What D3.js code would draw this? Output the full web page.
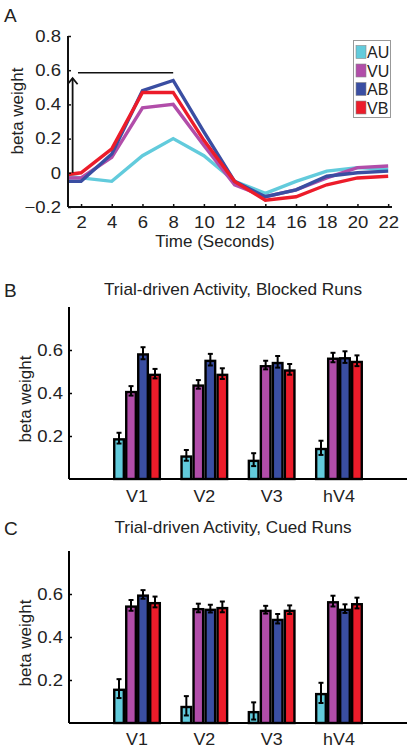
<!DOCTYPE html>
<html><head><meta charset="utf-8">
<script src="https://cdn.jsdelivr.net/npm/d3@7"></script>
<style>body{margin:0;background:#fff}svg{display:block}text{font-family:"Liberation Sans",Arial,sans-serif;fill:#222}</style>
</head><body>
<svg id="c" width="410" height="750"></svg>
<script>
// ---------- data ----------
const conditions = ["AU","VU","AB","VB"];
const colors = ["#62cbdc","#b14da9","#3a4ea2","#ec1c2a"];
const time = [1.15,2,4,6,8,10,12,14,16,18,20,22];
const tcAU = [-0.02,-0.03,-0.05,0.10,0.20,0.10,-0.05,-0.12,-0.05,0.01,0.03,0.02];
const tcVU = [-0.03,-0.03,0.09,0.38,0.40,0.16,-0.07,-0.14,-0.10,-0.03,0.03,0.04];
const tcAB = [-0.05,-0.05,0.11,0.48,0.54,0.24,-0.05,-0.14,-0.10,-0.02,0.00,0.01];
const tcVB = [-0.01,0.00,0.14,0.47,0.47,0.19,-0.05,-0.16,-0.14,-0.07,-0.03,-0.02];
const timeTicks = [2,4,6,8,10,12,14,16,18,20,22];
const betaTicksA = [-0.2,0,0.2,0.4,0.6,0.8];
const betaTicksA_labels = ["\u22120.2","0","0.2","0.4","0.6","0.8"];

const regions = ["V1","V2","V3","hV4"];
const betaTicksBC = [0.2,0.4,0.6];
const blockedAU = [0.19,0.11,0.09,0.145];
const blockedVU = [0.41,0.44,0.53,0.565];
const blockedAB = [0.585,0.555,0.545,0.567];
const blockedVB = [0.49,0.49,0.51,0.55];
const blockedErrAU = [0.025,0.025,0.03,0.033];
const blockedErrVU = [0.022,0.02,0.02,0.022];
const blockedErrAB = [0.028,0.027,0.027,0.027];
const blockedErrVB = [0.022,0.025,0.025,0.025];
const cuedAU = [0.16,0.08,0.056,0.14];
const cuedVU = [0.547,0.535,0.527,0.567];
const cuedAB = [0.598,0.532,0.485,0.532];
const cuedVB = [0.563,0.54,0.527,0.558];
const cuedErrAU = [0.044,0.045,0.04,0.047];
const cuedErrVU = [0.025,0.02,0.018,0.025];
const cuedErrAB = [0.02,0.018,0.022,0.02];
const cuedErrVB = [0.025,0.025,0.02,0.025];

const svg = d3.select("#c");

// horizontally widen text (the reference figure is slightly stretched)
function stretch(sel, f){
  sel.each(function(){
    const w = this.getComputedTextLength();
    d3.select(this).attr("textLength", w*f).attr("lengthAdjust","spacingAndGlyphs");
  });
}

// ---------- Panel A ----------
(function(){
  const x = d3.scaleLinear().domain([1.15,22.25]).range([68,392]);
  const y = d3.scaleLinear().domain([-0.2,0.8]).range([207,36]);
  const g = svg.append("g");
  g.append("text").attr("x",4).attr("y",22).attr("font-size",19).text("A");
  const series = [tcAU,tcVU,tcAB,tcVB];
  const line = d3.line().x((d,i)=>x(time[i])).y(d=>y(d));
  series.forEach((s,k)=>{
    g.append("path").datum(s).attr("d",line).attr("fill","none")
      .attr("stroke",colors[k]).attr("stroke-width",3.4).attr("stroke-linejoin","miter");
  });
  // arrow + horizontal line annotation
  g.append("line").attr("x1",x(1.45)).attr("x2",x(1.45)).attr("y1",y(0)).attr("y2",y(0.553))
    .attr("stroke","#111").attr("stroke-width",1.8);
  g.append("path").attr("d",`M${x(1.45)-5},${y(0.553)+6}L${x(1.45)},${y(0.553)}L${x(1.45)+5},${y(0.553)+6}`)
    .attr("fill","none").attr("stroke","#111").attr("stroke-width",1.8);
  g.append("line").attr("x1",x(1.8)).attr("x2",x(8)).attr("y1",y(0.585)).attr("y2",y(0.585))
    .attr("stroke","#111").attr("stroke-width",1.3);
  // axes
  const ax = g.append("g").attr("transform",`translate(0,${y(-0.2)})`)
    .call(d3.axisBottom(x).tickValues(timeTicks).tickSize(-3).tickPadding(9).tickFormat(d3.format("d")));
  const ay = g.append("g").attr("transform",`translate(${x(1.15)},0)`)
    .call(d3.axisLeft(y).tickValues(betaTicksA).tickSize(-3).tickPadding(7).tickFormat((d,i)=>betaTicksA_labels[i]));
  [ax,ay].forEach(a=>{
    a.select(".domain").attr("stroke","#111").attr("stroke-width",2);
    a.selectAll(".tick line").attr("stroke","#111").attr("stroke-width",1.5);
    a.selectAll(".tick text").attr("font-size",16.5).attr("fill","#222").attr("font-family","Liberation Sans, Arial");
    stretch(a.selectAll(".tick text"),1.12);
  });
  ax.select(".domain").attr("d",`M68,0H392`);
  ay.select(".domain").attr("d",`M0,${y(0.8)}V${y(-0.2)}`);
  g.append("text").attr("x",215).attr("y",247).attr("text-anchor","middle").attr("font-size",17).text("Time (Seconds)");
  g.append("text").attr("transform","translate(23,111) rotate(-90)").attr("text-anchor","middle").attr("font-size",17).text("beta weight");
  // legend
  const lg = g.append("g");
  lg.append("rect").attr("x",353.5).attr("y",40.5).attr("width",37).attr("height",77)
    .attr("fill","#fff").attr("stroke","#999").attr("stroke-width",1);
  conditions.forEach((c,i)=>{
    const cy = 52 + i*18.5;
    lg.append("rect").attr("x",356).attr("y",cy-6.5).attr("width",10).attr("height",13)
      .attr("fill",colors[i]).attr("stroke","#888").attr("stroke-width",0.6);
    lg.append("text").attr("x",367).attr("y",cy+6).attr("font-size",16).text(c);
  });
})();

// ---------- Panels B & C ----------
function barPanel(opts){
  const {top, bottom, letter, title, titleY, titleW, labelY, means, errs} = opts;
  const x = d3.scaleBand().domain(regions).range([69,407]).paddingInner(0.287).paddingOuter(0.654);
  const xi = d3.scaleBand().domain(conditions).range([0,x.bandwidth()]);
  const y = d3.scaleLinear().domain([0,0.8]).range([bottom,top]);
  const g = svg.append("g");
  g.append("text").attr("x",4).attr("y",titleY+2).attr("font-size",19).text(letter);
  g.append("text").attr("x",233).attr("y",titleY).attr("text-anchor","middle").attr("font-size",17)
    .attr("textLength",titleW).attr("lengthAdjust","spacingAndGlyphs").text(title);
  g.append("text").attr("transform",`translate(31,${(top+bottom)/2+6}) rotate(-90)`).attr("text-anchor","middle").attr("font-size",17).text("beta weight");
  conditions.forEach((c,k)=>{
    const m = means[k];
    regions.forEach((r,i)=>{
      const bx = x(r)+xi(c);
      g.append("rect").attr("x",bx+1.2).attr("y",y(m[i])+1.2)
        .attr("width",xi.bandwidth()-2.4).attr("height",Math.max(0,y(0)-y(m[i])-1.2))
        .attr("fill",colors[k]).attr("stroke","#000").attr("stroke-width",2.4);
    });
  });
  conditions.forEach((c,k)=>{
    const m = means[k], e = errs[k];
    regions.forEach((r,i)=>{
      const cx = x(r)+xi(c)+xi.bandwidth()/2;
      const y1 = y(m[i]+e[i]), y2 = y(m[i]-e[i]);
      g.append("line").attr("x1",cx).attr("x2",cx).attr("y1",y1).attr("y2",y2).attr("stroke","#000").attr("stroke-width",2);
      [y1,y2].forEach(yy=>g.append("line").attr("x1",cx-2.5).attr("x2",cx+2.5).attr("y1",yy).attr("y2",yy).attr("stroke","#000").attr("stroke-width",2));
    });
  });
  const ay = g.append("g").attr("transform","translate(69,0)")
    .call(d3.axisLeft(y).tickValues(betaTicksBC).tickSize(-3).tickPadding(6).tickFormat(d3.format(".1f")));
  ay.select(".domain").attr("d",`M0,${top}V${bottom}`).attr("stroke","#000").attr("stroke-width",2);
  ay.selectAll(".tick line").attr("stroke","#000").attr("stroke-width",1.5);
  ay.selectAll(".tick text").attr("font-size",16.5).attr("fill","#222").attr("font-family","Liberation Sans, Arial");
  stretch(ay.selectAll(".tick text"),1.12);
  const ax = g.append("g").attr("transform",`translate(0,${bottom})`)
    .call(d3.axisBottom(x).tickSize(0).tickPadding(0));
  ax.select(".domain").attr("d","M69,0H407").attr("stroke","#000").attr("stroke-width",2);
  ax.selectAll(".tick text").attr("font-size",17).attr("fill","#222").attr("dy",null).attr("y",labelY-bottom).attr("font-family","Liberation Sans, Arial");
  stretch(ax.selectAll(".tick text"),1.05);
}
barPanel({top:307,bottom:479,letter:"B",title:"Trial-driven Activity, Blocked Runs",titleY:295,titleW:258,labelY:502,
  means:[blockedAU,blockedVU,blockedAB,blockedVB],errs:[blockedErrAU,blockedErrVU,blockedErrAB,blockedErrVB]});
barPanel({top:551,bottom:723,letter:"C",title:"Trial-driven Activity, Cued Runs",titleY:533,titleW:237,labelY:745,
  means:[cuedAU,cuedVU,cuedAB,cuedVB],errs:[cuedErrAU,cuedErrVU,cuedErrAB,cuedErrVB]});
</script>
</body></html>
